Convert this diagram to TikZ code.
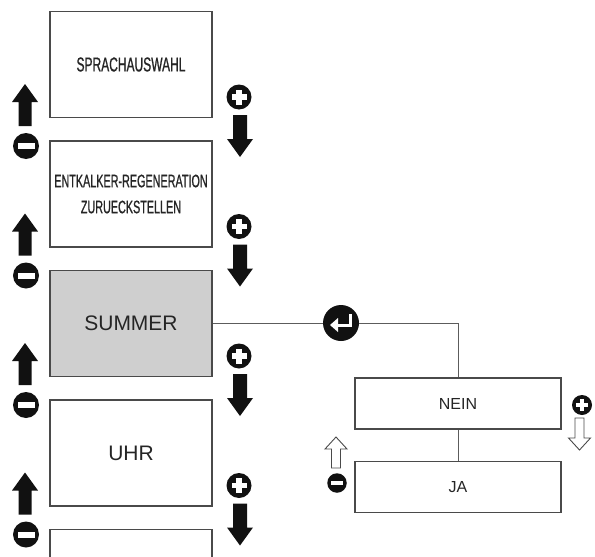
\documentclass[tikz,border=0pt]{standalone}
\usepackage{fontspec}
\setmainfont{Liberation Sans}
\newfontfamily\narrowfont[FakeStretch=0.6, FakeBold=0.8]{Liberation Sans}
\usetikzlibrary{positioning}

\definecolor{boxgray}{HTML}{4A4A4A}
\definecolor{txtgray}{HTML}{252525}
\definecolor{selgray}{HTML}{CFCFCF}
\definecolor{arrblack}{HTML}{111111}

\tikzset{
  menu/.style={draw=boxgray, line width=1.3pt, minimum width=162pt, minimum height=106pt,
    text=txtgray, align=center, inner sep=0pt},
  choice/.style={draw=boxgray, line width=1.1pt, minimum width=206pt, minimum height=51pt,
    text=txtgray, inner sep=0pt, font=\fontsize{16}{19}\selectfont},
  wire/.style={draw=boxgray!90, line width=1pt},
  % black arrows, tip at the origin
  blkup/.pic={\fill[arrblack] (0,0) -- (13,18) -- (6.5,18) -- (6.5,42) -- (-6.5,42) -- (-6.5,18) -- (-13,18) -- cycle;},
  blkdown/.pic={\fill[arrblack] (0,0) -- (13,-18) -- (7,-18) -- (7,-42) -- (-7,-42) -- (-7,-18) -- (-13,-18) -- cycle;},
  % hollow arrows, tip at the origin
  hollowup/.pic={\filldraw[fill=white, draw=boxgray, line width=0.9pt] (0,0) -- (11,12) -- (4.5,12) -- (4.5,31) -- (-4.5,31) -- (-4.5,12) -- (-11,12) -- cycle;},
  hollowdown/.pic={\filldraw[fill=white, draw=boxgray, line width=0.9pt] (0,0) -- (11,-12) -- (4.5,-12) -- (4.5,-32) -- (-4.5,-32) -- (-4.5,-12) -- (-11,-12) -- cycle;},
  % plus / minus keys
  pluskey/.pic={\fill[arrblack] (0,0) circle (12.5pt);
    \fill[white] (-7.5,-2.6) rectangle (7.5,2.6); \fill[white] (-2.6,-7.5) rectangle (2.6,7.5);},
  minuskey/.pic={\fill[arrblack] (0,0) circle (13pt);
    \fill[white] (-8.5,-3) rectangle (8.5,3);},
  enterkey/.style={circle, fill=arrblack, minimum size=36pt, inner sep=0pt}
}

\begin{document}
\begin{tikzpicture}[x=1pt, y=-1pt]
\useasboundingbox (0,0) rectangle (595,557);
\clip (0,0) rectangle (595,557);

% menu column
\node[menu, font=\narrowfont\fontsize{20}{24}\selectfont] (lang) at (131,64.5) {SPRACHAUSWAHL};
\node[menu, font=\narrowfont\fontsize{18}{26}\selectfont] (decal) at (131,194) {ENTKALKER-REGENERATION\\ZURUECKSTELLEN};
\node[menu, fill=selgray, font=\fontsize{21}{25}\selectfont] (summer) at (131,323.5) {SUMMER};
\node[menu, font=\fontsize{21}{25}\selectfont] (clock) at (131,453) {UHR};
\node[menu] (next) at (131,582.5) {};

% keys between the boxes
\foreach \k in {0,1,2,3} {
  \pic at (25,84+\k*129.5) {blkup};
  \pic at (26,146+\k*129.5) {minuskey};
  \pic at (239,97+\k*129.5) {pluskey};
  \pic at (240,157+\k*129.5) {blkdown};
}

% submenu
\node[enterkey] (enter) at (341,323) {};
\draw[white, line width=3pt] ([shift={(9,-9)}]enter.center) -- ([shift={(9,2)}]enter.center) -- ([shift={(-3,2)}]enter.center);
\fill[white] ([shift={(-3,-5)}]enter.center) -- ([shift={(-3,9)}]enter.center) -- ([shift={(-11,2)}]enter.center) -- cycle;

\node[choice] (nein) at (458,403.5) {NEIN};
\node[choice] (ja) at (458,487) {JA};

\draw[wire] (summer.east |- enter.west) -- (enter.west);
\draw[wire] (enter.east) -| (nein.north);
\draw[wire] (nein.south) -- (ja.north);

\pic[scale=0.8] at (582,405) {pluskey};
\pic at (579.5,450) {hollowdown};
\pic at (336,437) {hollowup};
\pic[scale=0.75] at (337,483) {minuskey};
\end{tikzpicture}
\end{document}
